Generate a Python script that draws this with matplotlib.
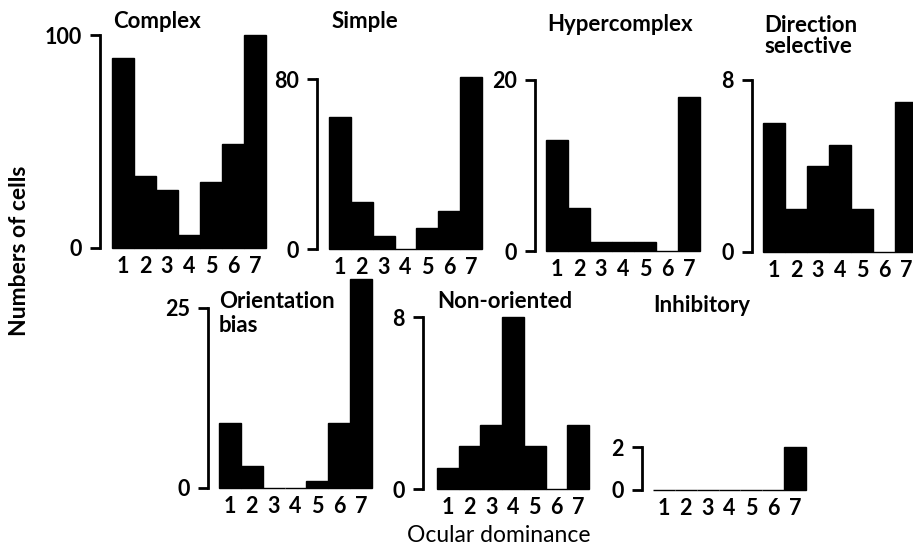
import matplotlib
matplotlib.use("Agg")
import matplotlib.pyplot as plt

plt.rcParams['font.family'] = ['Lato', 'DejaVu Sans']

# Ocular dominance groups 1..7
groups = [1, 2, 3, 4, 5, 6, 7]

# Numbers of cells in each ocular dominance group, per cell type
complex_cells = [89, 34, 27, 6, 31, 49, 100]
simple_cells = [62, 22, 6, 0, 10, 18, 81]
hypercomplex_cells = [13, 5, 1, 1, 1, 0, 18]
direction_cells = [6, 2, 4, 5, 2, 0, 7]
orientation_bias_cells = [9, 3, 0, 0, 1, 9, 29]
non_oriented_cells = [1, 2, 3, 8, 2, 0, 3]
inhibitory_cells = [0, 0, 0, 0, 0, 0, 2]

titles = [["Complex"], ["Simple"], ["Hypercomplex"], ["Direction", "selective"],
          ["Orientation", "bias"], ["Non-oriented"], ["Inhibitory"]]
series = [complex_cells, simple_cells, hypercomplex_cells, direction_cells,
          orientation_bias_cells, non_oriented_cells, inhibitory_cells]
ytops = [100, 80, 20, 8, 25, 8, 2]

W, H = 913, 546
fig = plt.figure(figsize=(W / 100, H / 100), dpi=100)

# panel layout in pixels: bar left, bar right, baseline, top tick, spine x
layout = [
    (112, 266, 248, 35, 100),
    (329, 482, 249, 79, 317),
    (546, 700, 251, 80, 535),
    (763, 917, 252, 80, 752),
    (219, 372, 488, 308, 208),
    (437, 589, 489, 317, 423),
    (653, 806, 490, 447, 642),
]
# title anchor: left x, baseline y of first line, line step (pixels)
title_pos = [(113, 28, 0), (332, 28, 0), (547, 31, 0), (764, 32, 21),
             (219, 308, 24), (437, 308, 0), (653, 312, 0)]

for vals, title, ytop, (x0, x1, base, top, sx), (tx, ty, step) in zip(
        series, titles, ytops, layout, title_pos):
    ax = fig.add_axes([x0 / W, (H - base) / H, (x1 - x0) / W, (base - top) / H])
    ax.bar(groups, vals, width=1.0, color='black', edgecolor='black',
           linewidth=1, clip_on=False)
    ax.set_xlim(0.5, 7.5)
    ax.set_ylim(0, ytop)
    for s in ['top', 'right', 'bottom']:
        ax.spines[s].set_visible(False)
    ax.spines['left'].set_position(('outward', (x0 - sx) * 0.72))
    ax.spines['left'].set_linewidth(2)
    ax.spines['left'].set_bounds(0, ytop)
    ax.set_yticks([0, ytop])
    ax.tick_params(axis='y', length=7, width=2, pad=6, labelsize=15.5)
    for lab in ax.get_yticklabels():
        lab.set_fontweight('bold')
    ax.set_xticks(groups)
    ax.tick_params(axis='x', length=0, pad=6, labelsize=15.5)
    for lab in ax.get_xticklabels():
        lab.set_fontweight('bold')
    ax.patch.set_visible(False)
    for i, line in enumerate(title):
        fig.text(tx / W, 1 - (ty + i * step) / H, line, ha='left',
                 va='baseline', fontsize=16, fontweight='bold')

fig.text(19 / W, 1 - 251 / H, "Numbers of cells", rotation=90, ha='center',
         va='center', fontsize=16.5, fontweight='bold')
fig.text(499 / W, 1 - 535 / H, "Ocular dominance", ha='center', va='center',
         fontsize=16.5)

fig.savefig("out.png", dpi=100)
